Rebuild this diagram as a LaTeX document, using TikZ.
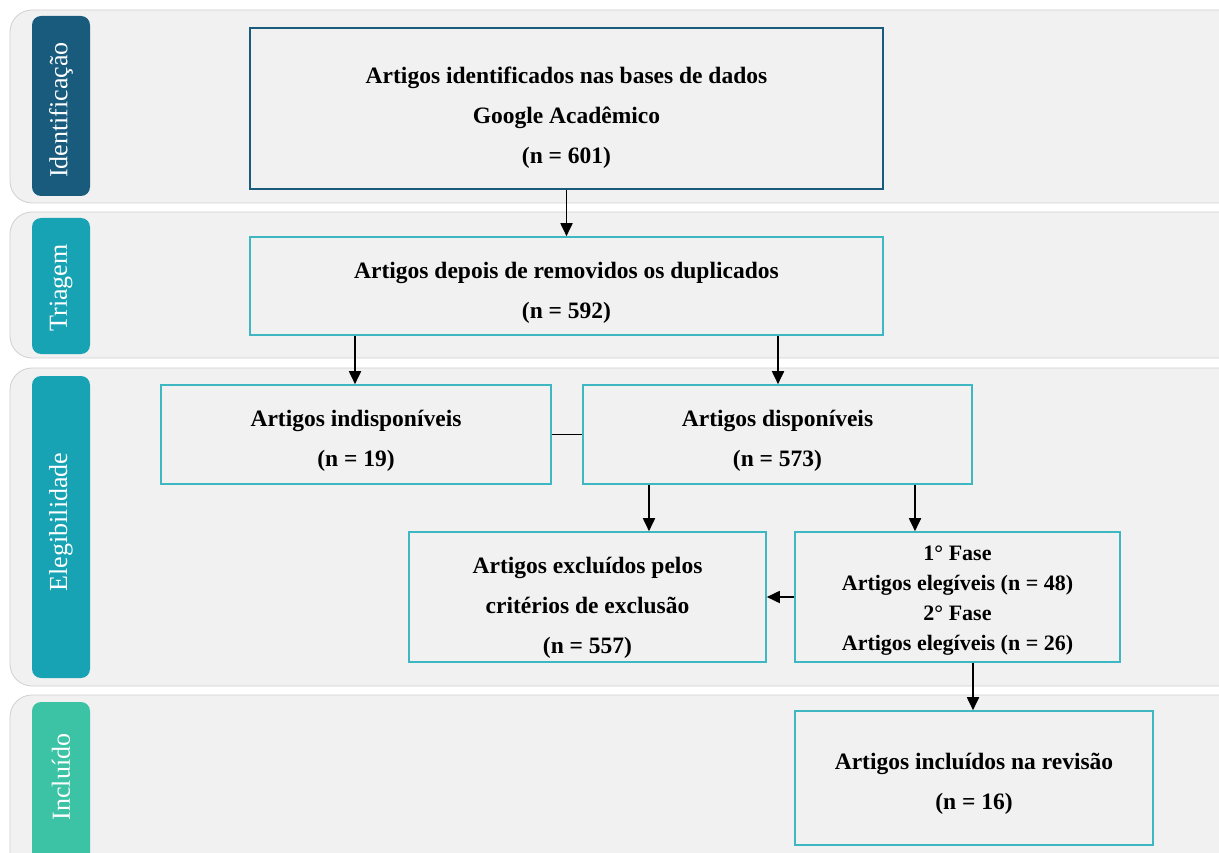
\documentclass[tikz,border=0pt]{standalone}
\usepackage{fontspec}
\setmainfont{LiberationSerif}[Extension=.ttf, UprightFont=*-Regular, BoldFont=*-Bold, ItalicFont=*-Italic, BoldItalicFont=*-BoldItalic]
\usetikzlibrary{arrows.meta}
\definecolor{bandbg}{HTML}{F1F1F1}
\definecolor{bandline}{HTML}{D0D0D0}
\definecolor{darkblue}{HTML}{185B7D}
\definecolor{tealc}{HTML}{17A3B4}
\definecolor{mintc}{HTML}{3CC2A4}
\definecolor{boxteal}{HTML}{3DB8C2}
\tikzset{
  band/.style={fill=bandbg, draw=bandline, line width=0.8pt, rounded corners=22pt},
  tag/.style={rounded corners=9pt, text=white, font=\fontsize{26}{30}\selectfont},
  flowbox/.style={draw=boxteal, line width=1.6pt, fill=bandbg, inner sep=0pt},
  boxtext/.style={align=center, font=\bfseries\fontsize{23.5}{40}\selectfont, inner sep=0pt},
  arr/.style={-{Stealth[length=13pt,width=12pt,inset=0pt]}, line width=1.8pt, black},
  conn/.style={line width=1.6pt, black}
}
\begin{document}
\begin{tikzpicture}[x=1pt,y=-1pt]
\useasboundingbox (0,0) rectangle (1219,853);
\fill[white] (0,0) rectangle (1219,853);
% bands
\draw[band] (10,10) rectangle (1250,203);
\draw[band] (10,212) rectangle (1250,358);
\draw[band] (10,368) rectangle (1250,686);
\draw[band] (10,695) rectangle (1250,890);
% tags
\fill[darkblue, rounded corners=9pt] (32,16) rectangle (90,196);
\node[tag, rotate=90] (t1) at (61,110) {Identificação};
\fill[tealc, rounded corners=9pt] (32,218) rectangle (90,354);
\node[tag, rotate=90] (t2) at (61,288) {Triagem};
\fill[tealc, rounded corners=9pt] (32,376) rectangle (90,678);
\node[tag, rotate=90] (t3) at (61,522) {Elegibilidade};
\fill[mintc, rounded corners=9pt] (32,702) rectangle (90,880);
\node[tag, rotate=90] (t4) at (61,777) {Incluído};
% boxes
\node[flowbox, draw=darkblue, minimum width=633pt, minimum height=161pt] (b1) at (566.5,108.5) {};
\node[boxtext] (b1t) at (566.5,118)
  {Artigos identificados nas bases de dados\\Google Acadêmico\\(n = 601)};
\node[flowbox, minimum width=633pt, minimum height=98pt] (b2) at (566.5,286) {};
\node[boxtext] (b2t) at (566.5,293)
  {Artigos depois de removidos os duplicados\\(n = 592)};
\node[flowbox, minimum width=390pt, minimum height=99pt] (b3) at (356,434.5) {};
\node[boxtext] (b3t) at (356,440.5)
  {Artigos indisponíveis\\(n = 19)};
\node[flowbox, minimum width=389pt, minimum height=99pt] (b4) at (777.5,434.5) {};
\node[boxtext] (b4t) at (777.5,440.5)
  {Artigos disponíveis\\(n = 573)};
\node[flowbox, minimum width=357pt, minimum height=130pt] (b5) at (587.5,597) {};
\node[boxtext] (b5t) at (587.5,608)
  {Artigos excluídos pelos\\critérios de exclusão\\(n = 557)};
\node[flowbox, minimum width=325pt, minimum height=130pt] (b6) at (957.5,597) {};
\node[boxtext, font=\bfseries\fontsize{22}{30}\selectfont] (b6t) at (957.5,601)
  {1° Fase\\Artigos elegíveis (n = 48)\\2° Fase\\Artigos elegíveis (n = 26)};
\node[flowbox, minimum width=358pt, minimum height=134pt] (b7) at (974,778) {};
\node[boxtext] (b7t) at (974,783.5)
  {Artigos incluídos na revisão\\(n = 16)};
% connectors
\draw[arr] (b1.south) -- (b2.north);
\draw[arr] (b2.south -| 355,0) -- (b3.north -| 355,0);
\draw[arr] (b2.south -| 778,0) -- (b4.north -| 778,0);
\draw[conn] (b3.east) -- (b4.west);
\draw[arr] (b4.south -| 649,0) -- (b5.north -| 649,0);
\draw[arr] (b4.south -| 915,0) -- (b6.north -| 915,0);
\draw[arr] (b6.west) -- (b5.east);
\draw[arr] (b6.south -| 973,0) -- (b7.north -| 973,0);
\end{tikzpicture}
\end{document}
